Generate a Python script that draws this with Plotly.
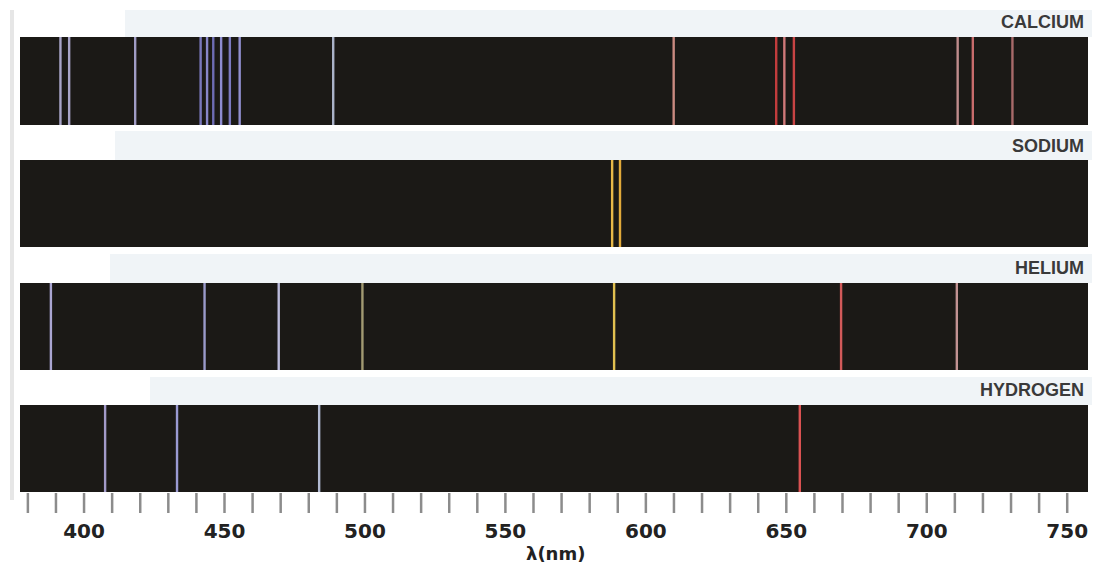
import plotly.graph_objects as go

# ---------------- data ----------------
elements = ["CALCIUM", "SODIUM", "HELIUM", "HYDROGEN"]

calcium_nm = [391.6, 394.7, 418.2, 441.5, 443.8, 446.0, 448.8, 451.9, 455.4,
              488.7, 609.9, 646.4, 649.3, 652.7, 711.0, 716.4, 730.5]
calcium_colors = ["#a8a4c8", "#a8a4c8", "#a09cc4", "#7a78bc", "#8886c8", "#6e6cb4",
                  "#8e8cd0", "#7c7ac0", "#9290d0", "#aab2c8", "#c98a80", "#c23c3c",
                  "#cf7878", "#c84444", "#bf8c8c", "#c86c6c", "#a86a6a"]

sodium_nm = [588.0, 590.8]
sodium_colors = ["#e8b848", "#e2aa3a"]

helium_nm = [388.2, 442.9, 469.3, 499.1, 588.7, 669.5, 710.7]
helium_colors = ["#aaa6d2", "#9a9aca", "#bcbcdc", "#a29a72", "#e2c050", "#d25a5a", "#c29292"]

hydrogen_nm = [407.5, 433.1, 483.7, 654.8]
hydrogen_colors = ["#a29ac8", "#9a9ad2", "#b2bad2", "#da5252"]

tick_nm = list(range(380, 751, 10))
label_nm = [400, 450, 500, 550, 600, 650, 700, 750]
x_title = "λ(nm)"

spectra = [(calcium_nm, calcium_colors), (sodium_nm, sodium_colors),
           (helium_nm, helium_colors), (hydrogen_nm, hydrogen_colors)]

# ---------------- layout geometry (window pixels) ----------------
OFF = 8                     # page body margin
W, H = 1092, 562            # figure size so that it fits the window
ML, MR = 12, 12             # plot area spans window x 20 .. 1088
strip_px = [(37, 125), (160, 247), (283, 370), (405, 492)]
band_px = [(125, 10, 37), (115, 131, 160), (110, 254, 283), (150, 377, 405)]
label_y_px = [22, 146, 268, 390]
tick_row_px = (493, 513)
STRIP = "#1b1916"

def py(p):
    return 1 - (p - OFF) / H

def px(p):
    return (p - OFF - ML) / (W - ML - MR)

fig = go.Figure()
shapes = []
annotations = []

yaxis_names = ["y", "y2", "y3", "y4"]
for i, ((nm, cols), name) in enumerate(zip(spectra, elements)):
    yn = yaxis_names[i]
    for lam, c in zip(nm, cols):
        fig.add_trace(go.Scatter(x=[lam, lam], y=[0, 1], mode="lines",
                                 line=dict(color=c, width=2.4),
                                 xaxis="x", yaxis=yn, hoverinfo="skip",
                                 showlegend=False))
    # pale label band
    bx, by0, by1 = band_px[i]
    shapes.append(dict(type="rect", xref="paper", yref="paper",
                       x0=px(bx), x1=px(1100), y0=py(by1), y1=py(by0),
                       fillcolor="#f0f4f7", line=dict(width=0), layer="below"))
    # dark strip
    shapes.append(dict(type="rect", xref="paper", yref=f"{yn} domain",
                       x0=0, x1=1, y0=0, y1=1,
                       fillcolor=STRIP, line=dict(width=0), layer="below"))
    annotations.append(dict(text=name, xref="paper", yref="paper",
                            x=px(1086), y=py(label_y_px[i]), xanchor="right",
                            yanchor="middle", showarrow=False,
                            font=dict(family="Liberation Sans", size=18,
                                      color="#3a3a3a", weight=700)))

# tick marks row
tx, ty = [], []
for t in tick_nm:
    tx += [t, t, None]
    ty += [0, 1, None]
fig.add_trace(go.Scatter(x=tx, y=ty, mode="lines",
                         line=dict(color="#8c8c8c", width=2.5),
                         xaxis="x", yaxis="y5", hoverinfo="skip", showlegend=False))

# faint page edge on the left
shapes.append(dict(type="line", xref="paper", yref="paper",
                   x0=px(12), x1=px(12), y0=py(500), y1=py(10),
                   line=dict(color="#e6e6e6", width=4), layer="below"))

annotations.append(dict(text=x_title, xref="paper", yref="paper",
                        x=px(555), y=py(553), xanchor="center", yanchor="middle",
                        showarrow=False,
                        font=dict(family="DejaVu Sans", size=18, color="#222222",
                                  weight=700)))

yax = dict(range=[0, 1], visible=False, fixedrange=True)
layout_axes = {}
for i, yn in enumerate(yaxis_names):
    top, bot = strip_px[i]
    key = "yaxis" if yn == "y" else "yaxis" + yn[1:]
    layout_axes[key] = dict(yax, domain=[py(bot), py(top)])
layout_axes["yaxis5"] = dict(yax, domain=[py(tick_row_px[1]), py(tick_row_px[0])])

fig.update_layout(
    width=W, height=H,
    margin=dict(l=ML, r=MR, t=0, b=0, autoexpand=False),
    paper_bgcolor="white", plot_bgcolor="rgba(0,0,0,0)",
    xaxis=dict(range=[377.2, 757.4], anchor="y5", tickvals=label_nm,
               ticks="", showgrid=False, zeroline=False, showline=False,
               ticklabelstandoff=4,
               tickfont=dict(family="DejaVu Sans", size=20, color="#222222",
                             weight=700), fixedrange=True),
    shapes=shapes, annotations=annotations,
    **layout_axes,
)

fig.write_html("out.html")
